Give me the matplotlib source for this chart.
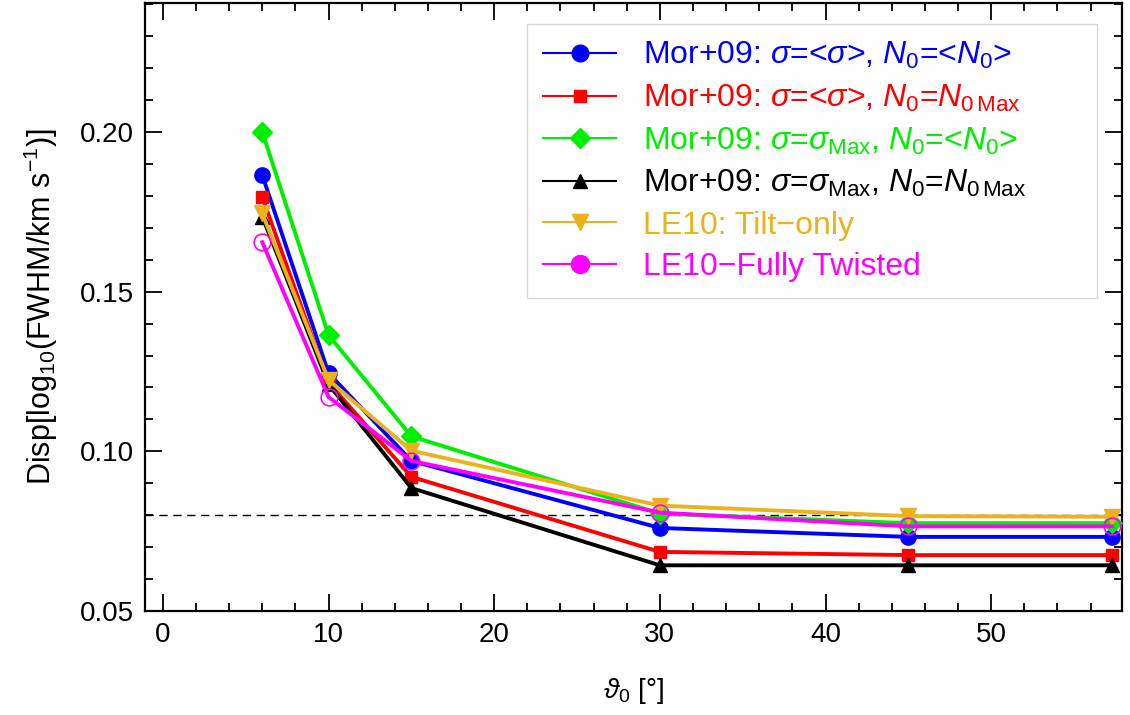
import matplotlib
matplotlib.use("Agg")
import matplotlib.pyplot as plt
from matplotlib.lines import Line2D
from matplotlib.ticker import MultipleLocator

plt.rcParams['font.family'] = ['Liberation Sans', 'DejaVu Sans']
plt.rcParams['mathtext.fontset'] = 'custom'
plt.rcParams['mathtext.rm'] = 'Liberation Sans'
plt.rcParams['mathtext.it'] = 'Liberation Sans:italic'
plt.rcParams['mathtext.bf'] = 'Liberation Sans:bold'

theta = [6, 10, 15, 30, 45, 57.3]
blue_vals = [0.1865, 0.1245, 0.0970, 0.0760, 0.0732, 0.0732]
red_vals = [0.1796, 0.1215, 0.0920, 0.0685, 0.0675, 0.0675]
green_vals = [0.2000, 0.1364, 0.1047, 0.0805, 0.0775, 0.0775]
black_vals = [0.1735, 0.1210, 0.0885, 0.0643, 0.0643, 0.0643]
orange_vals = [0.1745, 0.1223, 0.1002, 0.0830, 0.0797, 0.0795]
magenta_vals = [0.1655, 0.1170, 0.0970, 0.0808, 0.0765, 0.0765]
ref_level = 0.08

labels = [
    r'Mor+09: $\sigma$=<$\sigma$>, $N_0$=<$N_0$>',
    r'Mor+09: $\sigma$=<$\sigma$>, $N_0$=$N_{0\,\mathrm{Max}}$',
    r'Mor+09: $\sigma$=$\sigma_{\mathrm{Max}}$, $N_0$=<$N_0$>',
    r'Mor+09: $\sigma$=$\sigma_{\mathrm{Max}}$, $N_0$=$N_{0\,\mathrm{Max}}$',
    'LE10: Tilt\u2212only',
    'LE10\u2212Fully Twisted',
]
colors = ['#0000FF', '#FF0000', '#00EE00', '#000000', '#EBB21C', '#FF00FF']
markers = ['o', 's', 'D', '^', 'v', 'o']
msizes = [11, 9, 10, 10, 11, 12]
series = [blue_vals, red_vals, green_vals, black_vals, orange_vals, magenta_vals]

fig = plt.figure(figsize=(11.3, 7.15), dpi=100)
ax = fig.add_axes([0.128, 0.1455, 0.865, 0.8503])

ax.axhline(ref_level, color='black', lw=1.0, ls=(0, (6, 4)), zorder=1)

for i in [2, 0, 1, 4, 3, 5]:
    c = colors[i]
    if i == 5:
        ax.plot(theta, series[i], color=c, lw=2.8, marker='o', ms=msizes[i],
                mfc='none', mec=c, mew=1.2, zorder=3 + i)
    else:
        ax.plot(theta, series[i], color=c, lw=2.8, marker=markers[i], ms=msizes[i],
                mfc=c, mec=c, zorder=3 + i)

handles = []
for i in range(6):
    handles.append(Line2D([], [], color=colors[i], lw=1.5, marker=markers[i],
                          ms=msizes[i] + 1 if i in (0, 5) else msizes[i],
                          mfc=colors[i], mec=colors[i]))

leg = ax.legend(handles, labels, loc='upper left', bbox_to_anchor=(0.391, 0.0, 0.583, 0.965),
                mode='expand', fontsize=23, frameon=True, fancybox=False, edgecolor='#cccccc',
                handlelength=2.3, handletextpad=0.85, labelspacing=0.36,
                borderpad=0.5, borderaxespad=0.0)
leg.get_frame().set_linewidth(1.0)
for t, c in zip(leg.get_texts(), colors):
    t.set_color(c)

ax.set_xlim(-1.1, 57.9)
ax.set_ylim(0.05, 0.2404)
ax.xaxis.set_major_locator(MultipleLocator(10))
ax.xaxis.set_minor_locator(MultipleLocator(2))
ax.yaxis.set_major_locator(MultipleLocator(0.05))
ax.yaxis.set_minor_locator(MultipleLocator(0.01))
ax.yaxis.set_major_formatter(matplotlib.ticker.FormatStrFormatter('%.2f'))
ax.tick_params(which='both', direction='in', top=True, right=True, width=1.3)
ax.tick_params(which='major', length=12, labelsize=20, pad=8)
ax.tick_params(which='minor', length=6)
for s in ax.spines.values():
    s.set_linewidth(1.6)

ax.set_xlabel(r'$\vartheta_0$ [°]', fontsize=20, labelpad=20)
ax.set_ylabel(r'Disp[log$_{10}$(FWHM/km s$^{-1}$)]', fontsize=22, labelpad=14)

fig.savefig('out.png', dpi=100)
